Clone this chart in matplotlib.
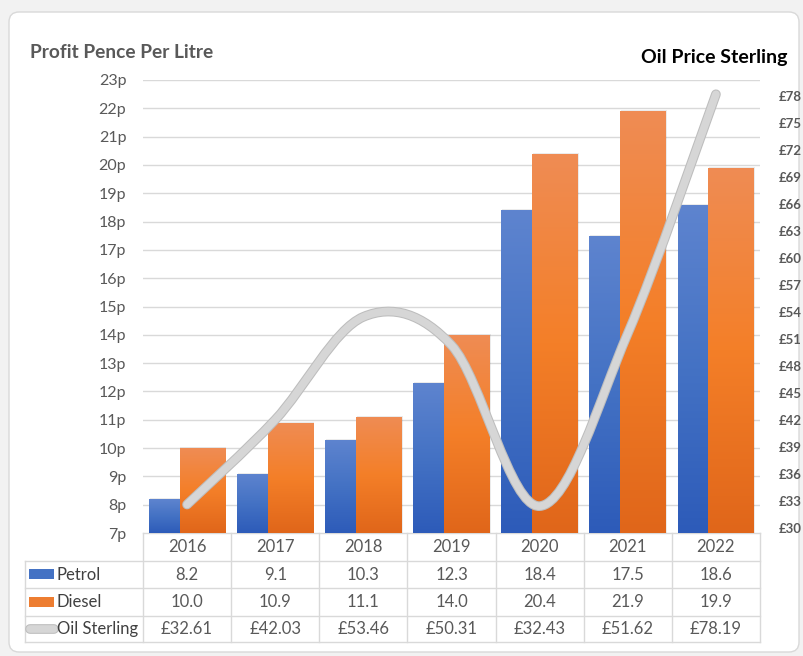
import numpy as np
import matplotlib
matplotlib.use('Agg')
import matplotlib.pyplot as plt
from matplotlib.colors import LinearSegmentedColormap
from matplotlib.patches import FancyBboxPatch, Rectangle, PathPatch
from matplotlib.path import Path
from matplotlib.transforms import blended_transform_factory
import matplotlib.patheffects as pe

plt.rcParams['font.family'] = ['Lato', 'DejaVu Sans']

# data
years = ['2016', '2017', '2018', '2019', '2020', '2021', '2022']
petrol = [8.2, 9.1, 10.3, 12.3, 18.4, 17.5, 18.6]
diesel = [10.0, 10.9, 11.1, 14.0, 20.4, 21.9, 19.9]
oil = [32.61, 42.03, 53.46, 50.31, 32.43, 51.62, 78.19]
left_ticks = list(range(7, 24))
right_ticks = list(range(30, 79, 3))

W, H = 804, 656
fig = plt.figure(figsize=(W / 100, H / 100), dpi=100)
fig.patch.set_facecolor('#f2f2f2')

def fx(px):
    return px / W

def fy(py):
    return 1 - py / H

# background axes in pixel coords
bg = fig.add_axes([0, 0, 1, 1], zorder=0)
bg.set_xlim(0, W)
bg.set_ylim(H, 0)
bg.axis('off')
bg.add_patch(FancyBboxPatch((9, 12), 790, 640, boxstyle='round,pad=0,rounding_size=10',
                            facecolor='white', edgecolor='#d9d9d9', linewidth=1))

# main axes
x0, x1 = 143, 760
ax = fig.add_axes([fx(x0), fy(533), fx(x1 - x0), (533 - 80) / H], zorder=1)
ax.set_facecolor('none')
ax.set_xlim(-0.5, 6.5)
ax.set_ylim(7, 23)
ax.set_yticks(left_ticks)
ax.set_yticklabels([f'{t}p' for t in left_ticks], fontsize=11.5, color='#595959')
ax.tick_params(axis='y', length=0, pad=12)
ax.set_xticks([])
for s in ax.spines.values():
    s.set_visible(False)
for t in left_ticks[1:]:
    ax.axhline(t, color='#d9d9d9', linewidth=1, zorder=0)

blue_cmap = LinearSegmentedColormap.from_list('b', ['#2d5bb9', '#4472c4', '#5e84cf'])
orange_cmap = LinearSegmentedColormap.from_list('o', ['#e0661a', '#f47f28', '#ef8c54'])
grad = np.linspace(0, 1, 256).reshape(-1, 1)

x = np.arange(len(years))
bw = 0.52
for vals, off, cmap, z in [(petrol, -0.175, blue_cmap, 2), (diesel, 0.175, orange_cmap, 3)]:
    bars = ax.bar(x + off, np.array(vals) - 7, bottom=7, width=bw, color='none',
                  edgecolor='none', zorder=z)
    for b in bars:
        bx, by = b.get_x(), b.get_y()
        bh = b.get_height()
        # soft shadow
        ax.add_patch(Rectangle((bx + 0.01, by), bw, bh + 0.03, facecolor='#000000',
                               alpha=0.08, edgecolor='none', zorder=z - 0.5))
        im = ax.imshow(grad, cmap=cmap, extent=[bx, bx + bw, by, by + bh], origin='lower',
                       aspect='auto', zorder=z)
        im.set_clip_path(b)
ax.set_xlim(-0.5, 6.5)
ax.set_ylim(7, 23)

# secondary axes for oil price
ax2 = fig.add_axes([fx(x0), fy(528), fx(x1 - x0), (528 - 96) / H], zorder=2)
ax2.set_facecolor('none')
ax2.set_xlim(-0.5, 6.5)
ax2.set_ylim(30, 78)
ax2.set_xticks([])
ax2.yaxis.tick_right()
ax2.set_yticks(right_ticks)
ax2.set_yticklabels([f'£{t}' for t in right_ticks], fontsize=9.5, color='#595959',
                    fontweight='bold')
ax2.tick_params(axis='y', length=0, pad=13.5)
for s in ax2.spines.values():
    s.set_visible(False)

# smoothed line (Catmull-Rom bezier through the data points)
pts = np.column_stack([x, oil]).astype(float)
verts = [pts[0]]
codes = [Path.MOVETO]
n = len(pts)
for i in range(n - 1):
    p0 = pts[max(i - 1, 0)]
    p1 = pts[i]
    p2 = pts[i + 1]
    p3 = pts[min(i + 2, n - 1)]
    verts += [p1 + (p2 - p0) / 6, p2 - (p3 - p1) / 6, p2]
    codes += [Path.CURVE4] * 3
line = PathPatch(Path(verts, codes), facecolor='none', edgecolor='#d6d6d6', linewidth=5.5,
                 capstyle='round', joinstyle='round', zorder=5, clip_on=False)
line.set_path_effects([pe.Stroke(linewidth=7, foreground='#bdbdbd'), pe.Normal()])
ax2.add_patch(line)

# titles
bg.text(30, 52, 'Profit Pence Per Litre', fontsize=13.8, fontweight='bold', color='#595959',
        va='center', ha='left')
bg.text(788, 57, 'Oil Price Sterling', fontsize=14, fontweight='bold', color='#000000',
        va='center', ha='right')

# data table
tr = blended_transform_factory(ax.transData, bg.transData)
gc = '#d9d9d9'
row_y = [533, 561, 588, 616, 642]
bg.plot([x0, x1], [533, 533], color=gc, lw=1)
for yy in row_y[1:]:
    bg.plot([25, x1], [yy, yy], color=gc, lw=1)
bg.plot([25, 25], [561, 642], color=gc, lw=1)
for i in range(len(years) + 1):
    bg.plot([i - 0.5, i - 0.5], [533, 642], color=gc, lw=1, transform=tr)

rows = [years,
        [f'{v:.1f}' for v in petrol],
        [f'{v:.1f}' for v in diesel],
        [f'£{v:.2f}' for v in oil]]
for r, vals in enumerate(rows):
    yc = (row_y[r] + row_y[r + 1]) / 2
    for i, v in enumerate(vals):
        bg.text(i, yc, v, transform=tr, ha='center', va='center', fontsize=12,
                color='#595959')

labels = ['Petrol', 'Diesel', 'Oil Sterling']
for r, lab in enumerate(labels):
    yc = (row_y[r + 1] + row_y[r + 2]) / 2
    bg.text(57, yc, lab, ha='left', va='center', fontsize=12, color='#404040')

bg.add_patch(Rectangle((29, 569), 25, 10, facecolor='#4472c4', edgecolor='none'))
bg.add_patch(Rectangle((29, 597), 25, 10, facecolor='#ed7d31', edgecolor='none'))
bg.plot([30, 54], [629, 629], color='#d6d6d6', lw=5.5, solid_capstyle='round',
        path_effects=[pe.Stroke(linewidth=7, foreground='#bdbdbd'), pe.Normal()])

fig.savefig('out.png', dpi=100, facecolor=fig.get_facecolor())
